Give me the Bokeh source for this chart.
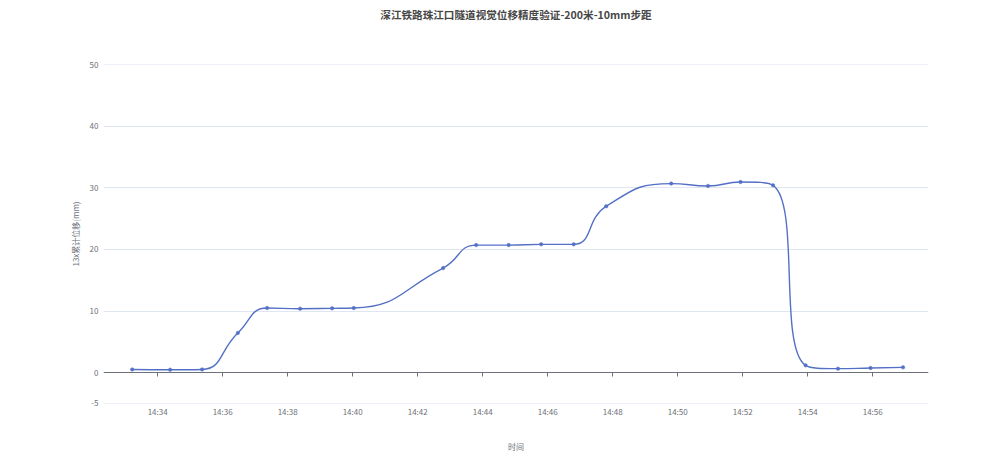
from datetime import datetime, timezone

from bokeh.plotting import figure
from bokeh.models import (DatetimeAxis, FixedTicker, DatetimeTickFormatter,
                          PrintfTickFormatter, ColumnDataSource, Range1d, Title)
from bokeh.embed import file_html
from bokeh.resources import INLINE

# ---------------- data ----------------
title_text = "深江铁路珠江口隧道视觉位移精度验证-200米-10mm步距"
y_axis_name = "13x累计位移(mm)"
x_axis_name = "时间"
day = (2023, 1, 1)

times = ["14:33:13", "14:34:23", "14:35:22", "14:36:28", "14:37:22", "14:38:23",
         "14:39:22", "14:40:02", "14:42:47", "14:43:48", "14:44:48", "14:45:48",
         "14:46:48", "14:47:48", "14:49:48", "14:50:56", "14:51:56", "14:52:56",
         "14:53:56", "14:54:56", "14:55:56", "14:56:56"]
values = [0.52, 0.47, 0.52, 6.45, 10.48, 10.38, 10.43, 10.48, 16.97, 20.7,
          20.7, 20.82, 20.82, 27.0, 30.68, 30.3, 30.94, 30.4, 1.18, 0.65,
          0.75, 0.86]

x_tick_labels = ["14:34", "14:36", "14:38", "14:40", "14:42", "14:44", "14:46",
                 "14:48", "14:50", "14:52", "14:54", "14:56"]
y_ticks = [-5, 0, 10, 20, 30, 40, 50]

x_start_label, x_end_label = "14:32:20", "14:57:43"
y_min, y_max = -5.01, 50.01


def to_ms(hms):
    parts = [int(v) for v in hms.split(":")]
    while len(parts) < 3:
        parts.append(0)
    dt = datetime(day[0], day[1], day[2], parts[0], parts[1], parts[2],
                  tzinfo=timezone.utc)
    return dt.timestamp() * 1000.0


xs = [to_ms(t) for t in times]
ys = list(values)
x_ticks = [to_ms(t) for t in x_tick_labels]
x0, x1 = to_ms(x_start_label), to_ms(x_end_label)

# ---------------- layout ----------------
W, H = 990, 460
ML, MR, MT, MB = 103, 62, 64, 57
FW, FH = W - ML - MR, H - MT - MB

LINE_COLOR = "#5470C6"
TXT = "#6E7079"
FONT = "Noto Sans CJK SC"

# ---------- ECharts-like smooth bezier (smooth = 0.5), in pixel space ----------
sx = FW / (x1 - x0)
sy = FH / (y_max - y_min)
P = [((x - x0) * sx, (y - y_min) * sy) for x, y in zip(xs, ys)]
smooth = 0.5
segs = []
cp0 = P[0]
n = len(P)
for i in range(1, n):
    px, py = P[i - 1]
    x, y = P[i]
    if i == n - 1:
        cp1 = (x, y)
        nxt_cp0 = None
    else:
        nx, ny = P[i + 1]
        vx, vy = nx - px, ny - py
        dx0, dy0 = x - px, y - py
        dx1, dy1 = nx - x, ny - y
        lp = (dx0 * dx0 + dy0 * dy0) ** 0.5
        ln = (dx1 * dx1 + dy1 * dy1) ** 0.5
        r = ln / (ln + lp)
        ncx = x + vx * smooth * r
        ncy = y + vy * smooth * r
        ncx = min(ncx, max(nx, x)); ncy = min(ncy, max(ny, y))
        ncx = max(ncx, min(nx, x)); ncy = max(ncy, min(ny, y))
        vx, vy = ncx - x, ncy - y
        c1x = x - vx * lp / ln
        c1y = y - vy * lp / ln
        c1x = min(c1x, max(px, x)); c1y = min(c1y, max(py, y))
        c1x = max(c1x, min(px, x)); c1y = max(c1y, min(py, y))
        vx, vy = x - c1x, y - c1y
        ncx = x + vx * ln / lp
        ncy = y + vy * ln / lp
        cp1 = (c1x, c1y)
        nxt_cp0 = (ncx, ncy)
    segs.append((P[i - 1], cp0, cp1, P[i]))
    cp0 = nxt_cp0


def bx(v):
    return v / sx + x0


def by(v):
    return v / sy + y_min


bez = ColumnDataSource(dict(
    x0=[bx(s[0][0]) for s in segs], y0=[by(s[0][1]) for s in segs],
    cx0=[bx(s[1][0]) for s in segs], cy0=[by(s[1][1]) for s in segs],
    cx1=[bx(s[2][0]) for s in segs], cy1=[by(s[2][1]) for s in segs],
    x1=[bx(s[3][0]) for s in segs], y1=[by(s[3][1]) for s in segs],
))
pts = ColumnDataSource(dict(x=xs, y=ys))

# ---------------- figure ----------------
p = figure(width=W, height=H, output_backend="svg", toolbar_location=None,
           x_axis_type=None, y_axis_location="left",
           x_range=Range1d(x0, x1), y_range=Range1d(y_min, y_max),
           min_border_left=ML, min_border_right=MR,
           min_border_top=MT, min_border_bottom=MB)
p.background_fill_color = "white"
p.border_fill_color = "white"
p.outline_line_color = None
p.title.text = ""

# spacer between plot area and title (first in the top panel = nearest the plot)
p.add_layout(Title(text=" ", text_font_size="1px", standoff=38), "above")
p.add_layout(Title(text=title_text, align="center", text_font=FONT,
                   text_font_size="10.6px", text_font_style="bold",
                   text_color="#464646", standoff=3), "above")

fmt = DatetimeTickFormatter(seconds="%H:%M", minsec="%H:%M", minutes="%H:%M",
                            hourmin="%H:%M", hours="%H:%M", days="%H:%M")

# bottom axis: labels only
xa = DatetimeAxis(ticker=FixedTicker(ticks=x_ticks), formatter=fmt)
xa.axis_line_color = None
xa.major_tick_line_color = None
xa.major_tick_out = 0
xa.major_tick_in = 0
xa.minor_tick_line_color = None
xa.minor_tick_out = 0
xa.minor_tick_in = 0
xa.major_label_text_font = FONT
xa.major_label_text_font_size = "8px"
xa.major_label_text_color = TXT
xa.major_label_standoff = 2
xa.axis_label = x_axis_name
xa.axis_label_text_font = FONT
xa.axis_label_text_font_size = "8px"
xa.axis_label_text_font_style = "normal"
xa.axis_label_text_color = TXT
xa.axis_label_standoff = 21
p.add_layout(xa, "below")

# zero axis: line + downward ticks (fixed at y=0)
za = DatetimeAxis(ticker=FixedTicker(ticks=x_ticks), formatter=fmt, fixed_location=0)
za.axis_line_color = TXT
za.axis_line_width = 1
za.major_tick_line_color = TXT
za.major_tick_out = 0
za.major_tick_in = 4
za.minor_tick_line_color = None
za.minor_tick_out = 0
za.minor_tick_in = 0
za.major_label_text_alpha = 0
za.major_label_text_font_size = "0px"
za.major_label_standoff = 0
p.add_layout(za, "above")

ya = p.yaxis[0]
ya.ticker = FixedTicker(ticks=y_ticks)
ya.formatter = PrintfTickFormatter(format="%d")
ya.axis_line_color = None
ya.major_tick_line_color = None
ya.major_tick_out = 0
ya.major_tick_in = 0
ya.minor_tick_line_color = None
ya.minor_tick_out = 0
ya.minor_tick_in = 0
ya.major_label_text_font = FONT
ya.major_label_text_font_size = "8px"
ya.major_label_text_color = TXT
ya.major_label_standoff = 5
ya.axis_label = y_axis_name
ya.axis_label_text_font = FONT
ya.axis_label_text_font_size = "8px"
ya.axis_label_text_font_style = "normal"
ya.axis_label_text_color = TXT
ya.axis_label_standoff = 6

p.ygrid.ticker = FixedTicker(ticks=y_ticks)
p.ygrid.grid_line_color = "#E0E6F1"
p.ygrid.grid_line_width = 1
p.xgrid.visible = False

p.bezier(x0="x0", y0="y0", x1="x1", y1="y1", cx0="cx0", cy0="cy0",
         cx1="cx1", cy1="cy1", source=bez, line_color=LINE_COLOR, line_width=1.4)
p.scatter(x="x", y="y", source=pts, size=3.5, fill_color=LINE_COLOR,
          line_color=LINE_COLOR, line_width=0.5)

open("out.html", "w").write(file_html(p, INLINE))
